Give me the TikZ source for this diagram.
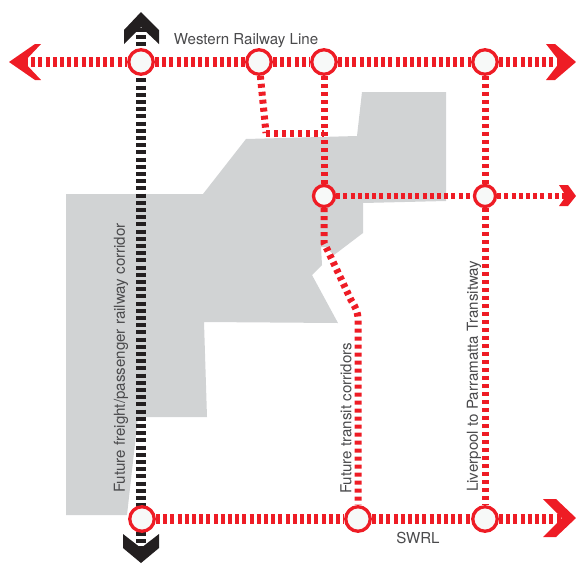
\documentclass[tikz,border=0pt]{standalone}
\usepackage{fontspec}
\setmainfont{TeX Gyre Heros}
\usetikzlibrary{positioning,backgrounds}
\definecolor{railred}{HTML}{EE1C25}
\definecolor{railink}{HTML}{231F20}
\definecolor{sitegrey}{HTML}{D1D3D4}
\definecolor{labelink}{HTML}{4A4A4C}
\definecolor{stopfill}{HTML}{F7F9F8}
\begin{document}
\begin{tikzpicture}[
  x=1pt, y=-1pt, on grid,
  font=\fontsize{15.1}{16}\selectfont,
  bigstop/.style={circle, draw=railred, fill=stopfill, line width=3.3pt,
    minimum size=24.5pt, inner sep=0pt},
  smallstop/.style={bigstop, minimum size=21pt},
  trunkline/.style={railred, line width=10pt, dash pattern=on 4pt off 3.2pt},
  crossline/.style={railred, line width=6pt, dash pattern=on 4pt off 3.2pt},
  branchline/.style={railred, line width=7pt, dash pattern=on 4pt off 4pt},
  freightline/.style={railink, line width=10pt, dash pattern=on 4pt off 3.2pt},
  lbl/.style={text=labelink, inner sep=0pt},
  ]
  \useasboundingbox (0,0) rectangle (576,563);

  % stops
  \node[bigstop] (wa) at (141,62) {};
  \node[bigstop, right=118pt of wa] (wb) {};
  \node[bigstop, right=65pt of wb] (wc) {};
  \node[bigstop, right=161pt of wc] (wd) {};
  \node[smallstop, below=134pt of wc] (mc) {};
  \node[smallstop, below=134pt of wd] (md) {};
  \node[bigstop] (sa) at (142,519) {};
  \node[bigstop, right=216pt of sa] (sb) {};
  \node[bigstop, right=127pt of sb] (sc) {};

  % free ends
  \coordinate (wend) at (24,62);
  \coordinate (eend) at (562,62);
  \coordinate (mend) at (566,196);
  \coordinate (send) at (564,519);
  \coordinate (ntop) at (141,28);
  \coordinate (nbot) at (141,548);
  \coordinate (bend) at (266,133);
  \coordinate (join) at (324,133);

  \begin{scope}[on background layer]
    \fill[sitegrey] (66,194) -- (203,194) -- (246,139) -- (357,136) -- (362,92)
      -- (446,92) -- (446,201) -- (363,203) -- (363,233) -- (334,255) -- (326,247)
      -- (321,247) -- (322,265) -- (312,275) -- (338,323) -- (204,322) -- (207,417)
      -- (138,417) -- (127,515) -- (66,515) -- cycle;

    \draw[freightline] (ntop) -- (nbot);
    \draw[trunkline] (wend) -- (wa);
    \draw[trunkline] (wa) -- (wb);
    \draw[trunkline] (wb) -- (wc);
    \draw[trunkline] (wc) -- (wd);
    \draw[trunkline] (wd) -- (eend);
    \draw[trunkline] (sa) -- (sb);
    \draw[trunkline] (sb) -- (sc);
    \draw[trunkline] (sc) -- (send);
    \draw[crossline] (mc) -- (md);
    \draw[crossline] (md) -- (mend);
    \draw[branchline] (wb) -- (bend);
    \draw[branchline] (bend) -- (join);
    \draw[branchline] (wc) -- (mc);
    \draw[branchline] (wd) -- (md);
    \draw[branchline] (md) -- (sc);
    \draw[branchline] (mc) -- (324,243) -- (327,249) -- (351,300)
      .. controls (356,308) and (358,312) .. (358,320) -- (sb);
  \end{scope}

  % arrowheads
  \fill[railred] (9,62) -- (35,44) -- (41,44) -- (24,62) -- (41,80) -- (35,80) -- cycle;
  \fill[railred] (576,62) -- (555,44) -- (546,44) -- (560,62) -- (546,80) -- (555,80) -- cycle;
  \fill[railred] (576,196) -- (568,185) -- (559,185) -- (566,196) -- (559,206) -- (568,206) -- cycle;
  \fill[railred] (576,518) -- (556,499) -- (543,499) -- (562,518) -- (543,537) -- (556,537) -- cycle;
  \fill[railink] (141,12) -- (124,30) -- (124,44) -- (141,27) -- (159,44) -- (159,30) -- cycle;
  \fill[railink] (141,563) -- (123,548) -- (123,534) -- (141,548) -- (159,534) -- (159,548) -- cycle;

  % labels
  \node[lbl] (western) at (246,41) {Western Railway Line};
  \node[lbl] (swrl) at (418,538) {SWRL};
  \node[lbl, rotate=90, anchor=west] (freight) at (121,493) {Future freight/passenger railway corridor};
  \node[lbl, rotate=90, anchor=west] (transit) at (346,494) {Future transit corridors};
  \node[lbl, rotate=90, anchor=west] (liverpool) at (474,492) {Liverpool to Parramatta Transitway};
\end{tikzpicture}
\end{document}
